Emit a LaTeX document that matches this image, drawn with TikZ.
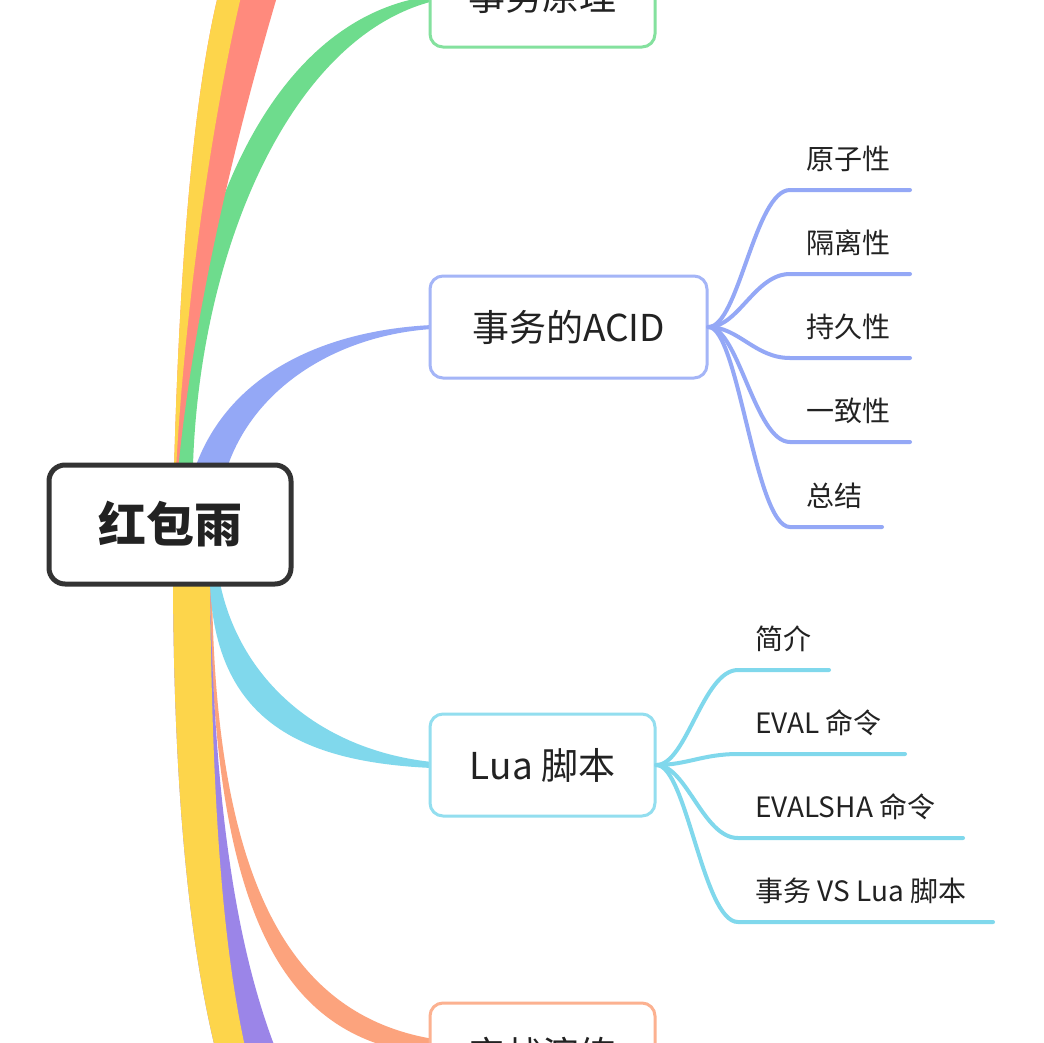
\documentclass[tikz,border=0pt]{standalone}
\usepackage{fontspec}
\setmainfont{Noto Sans CJK SC}
\definecolor{cyel}{HTML}{FDD54B}
\definecolor{cred}{HTML}{FF8A7D}
\definecolor{cgrn}{HTML}{6EDC8D}
\definecolor{cblu}{HTML}{94A8F6}
\definecolor{ccya}{HTML}{80D8EC}
\definecolor{cpur}{HTML}{9B85E8}
\definecolor{cora}{HTML}{FCA37D}
\definecolor{croot}{HTML}{333333}
\definecolor{txt}{HTML}{222222}
\tikzset{
  rootbox/.style={draw=croot, line width=5pt, fill=white, rounded corners=16pt, inner sep=0pt,
     minimum width=242pt, minimum height=119pt, text=txt, font=\fontsize{48}{52}\selectfont\bfseries},
  topicbox/.style={line width=3pt, fill=white, rounded corners=13pt, inner sep=0pt,
     minimum height=102pt, text=txt, font=\fontsize{37}{42}\selectfont},
  leaf/.style={anchor=base west, inner sep=0pt, text=txt, font=\fontsize{28}{32}\selectfont},
  twig/.style={line width=4pt, line cap=round},
}
\begin{document}
\begin{tikzpicture}[x=1pt,y=-1pt]
\useasboundingbox (0,0) rectangle (1044,1042);
\clip (0,0) rectangle (1044,1042);
\fill[white] (0,0) rectangle (1044,1042);

% ---- upward ribbons ----
\fill[cgrn] (175,465) .. controls (178,250) and (260,20) .. (430,-4)
   -- (430,2) .. controls (290,40) and (200,250) .. (193,465) -- cycle;
\fill[cred] (174,470) .. controls (180,250) and (195,80) .. (222,-20)
   -- (282,-20) .. controls (240,120) and (195,300) .. (178,470) -- cycle;
\fill[cyel] (174,470) .. controls (180,250) and (195,80) .. (222,-20)
   -- (245,-20) .. controls (215,100) and (185,300) .. (176,470) -- cycle;
\fill[cblu] (195,468) .. controls (230,370) and (330,330) .. (432,325)
   -- (432,329) .. controls (340,335) and (255,385) .. (227,468) -- cycle;

% ---- downward ribbons ----
\fill[cora] (210,585) .. controls (212,950) and (300,1045) .. (440,1056)
   -- (440,1040) .. controls (300,1020) and (215,900) .. (212,585) -- cycle;
\fill[cpur] (173,583) .. controls (174,800) and (190,950) .. (218,1060)
   -- (280,1060) .. controls (235,950) and (214,800) .. (210,583) -- cycle;
\fill[cyel] (173,583) .. controls (174,800) and (190,950) .. (218,1060)
   -- (248,1060) .. controls (222,950) and (212,800) .. (210,583) -- cycle;
\fill[ccya] (220,583) .. controls (240,680) and (320,750) .. (432,762)
   -- (432,768) .. controls (300,762) and (215,720) .. (210,583) -- cycle;

% ---- nodes ----
\node[rootbox] (root) at (170,524.5) {红包雨};
\node[topicbox, draw=cgrn!85, minimum width=225pt] (yl) at (542.5,-4) {事务原理};
\node[topicbox, draw=cblu!85, minimum width=277pt] (acid) at (568.5,327) {事务的ACID};
\node[topicbox, draw=ccya!85, minimum width=225pt] (lua) at (542.5,765) {Lua 脚本};
\node[topicbox, draw=cora!85, minimum width=225pt] (sz) at (542.5,1054) {实战演练};

% ---- ACID children ----
\foreach \i/\y/\e/\t in {1/190/910/原子性, 2/274/910/隔离性, 3/358/910/持久性, 4/442/910/一致性, 5/527/882/总结}{
  \coordinate (ah\i) at (790,\y);
  \coordinate (ae\i) at (\e,\y);
  \draw[twig, cblu] (acid.east) .. controls +(30,0) and (755,\y) .. (ah\i) -- (ae\i);
  \node[leaf] (al\i) at (806,\y-21) {\t};
}

% ---- Lua children ----
\foreach \i/\y/\e/\t in {1/670/829/简介, 2/754/905/EVAL 命令, 3/838/963/EVALSHA 命令, 4/922/993/事务 VS Lua 脚本}{
  \coordinate (lh\i) at (738,\y);
  \coordinate (le\i) at (\e,\y);
  \draw[twig, ccya] (lua.east) .. controls +(30,0) and (703,\y) .. (lh\i) -- (le\i);
  \node[leaf] (ll\i) at (755,\y-21) {\t};
}
\end{tikzpicture}
\end{document}
